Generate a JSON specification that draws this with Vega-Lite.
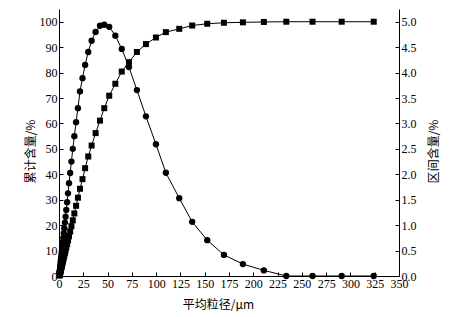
{
  "$schema": "https://vega.github.io/schema/vega-lite/v6.json",
  "autosize": {"type": "none"},
  "padding": {"left": 59, "top": 9, "right": 57, "bottom": 41},
  "width": 340,
  "height": 267,
  "background": "white",
  "config": {
    "view": {"stroke": null},
    "axis": {
      "grid": false,
      "domainColor": "#000000",
      "domainWidth": 1,
      "tickColor": "#000000",
      "tickWidth": 1,
      "tickSize": -4,
      "labelColor": "#000000",
      "labelFont": "Liberation Serif",
      "labelFontSize": 12,
      "labelFontWeight": "normal",
      "titleColor": "#000000",
      "titleFont": "Noto Sans CJK SC",
      "titleFontSize": 12,
      "titleFontWeight": "normal"
    }
  },
  "data": {
    "values": [
      {"size": 0.43, "cum": 0.2, "int": 0.02},
      {"size": 0.48, "cum": 0.3, "int": 0.03},
      {"size": 0.53, "cum": 0.4, "int": 0.04},
      {"size": 0.59, "cum": 0.5, "int": 0.05},
      {"size": 0.65, "cum": 0.6, "int": 0.06},
      {"size": 0.73, "cum": 0.7, "int": 0.075},
      {"size": 0.81, "cum": 0.8, "int": 0.09},
      {"size": 0.9, "cum": 0.95, "int": 0.105},
      {"size": 1.0, "cum": 1.1, "int": 0.125},
      {"size": 1.11, "cum": 1.3, "int": 0.145},
      {"size": 1.23, "cum": 1.5, "int": 0.17},
      {"size": 1.37, "cum": 1.7, "int": 0.195},
      {"size": 1.53, "cum": 1.9, "int": 0.225},
      {"size": 1.7, "cum": 2.2, "int": 0.255},
      {"size": 1.89, "cum": 2.5, "int": 0.29},
      {"size": 2.1, "cum": 2.8, "int": 0.33},
      {"size": 2.33, "cum": 3.2, "int": 0.375},
      {"size": 2.6, "cum": 3.6, "int": 0.425},
      {"size": 2.88, "cum": 4.0, "int": 0.475},
      {"size": 3.2, "cum": 4.5, "int": 0.535},
      {"size": 3.57, "cum": 5.1, "int": 0.6},
      {"size": 3.97, "cum": 5.7, "int": 0.67},
      {"size": 4.4, "cum": 6.4, "int": 0.75},
      {"size": 4.9, "cum": 7.2, "int": 0.84},
      {"size": 5.46, "cum": 8.0, "int": 0.94},
      {"size": 6.07, "cum": 9.0, "int": 1.05},
      {"size": 6.75, "cum": 10.0, "int": 1.165},
      {"size": 7.5, "cum": 11.2, "int": 1.3},
      {"size": 8.35, "cum": 12.5, "int": 1.45},
      {"size": 9.3, "cum": 14.0, "int": 1.625},
      {"size": 10.3, "cum": 15.6, "int": 1.825},
      {"size": 11.5, "cum": 17.5, "int": 2.025},
      {"size": 12.8, "cum": 19.6, "int": 2.25},
      {"size": 14.2, "cum": 21.9, "int": 2.5},
      {"size": 15.8, "cum": 24.6, "int": 2.75},
      {"size": 17.6, "cum": 27.6, "int": 3.025},
      {"size": 19.5, "cum": 30.8, "int": 3.3},
      {"size": 21.6, "cum": 34.3, "int": 3.63},
      {"size": 24.2, "cum": 38.1, "int": 3.89},
      {"size": 26.9, "cum": 42.4, "int": 4.15},
      {"size": 30.1, "cum": 47.0, "int": 4.405},
      {"size": 33.6, "cum": 51.3, "int": 4.625},
      {"size": 37.7, "cum": 56.2, "int": 4.8},
      {"size": 42.2, "cum": 61.1, "int": 4.92},
      {"size": 46.6, "cum": 66.0, "int": 4.94},
      {"size": 51.7, "cum": 70.9, "int": 4.9},
      {"size": 58.0, "cum": 75.6, "int": 4.725},
      {"size": 64.6, "cum": 80.4, "int": 4.465},
      {"size": 72.0, "cum": 84.1, "int": 4.11},
      {"size": 80.2, "cum": 88.1, "int": 3.655},
      {"size": 89.5, "cum": 91.2, "int": 3.14},
      {"size": 99.8, "cum": 93.8, "int": 2.59},
      {"size": 110.0, "cum": 95.9, "int": 2.03},
      {"size": 123.8, "cum": 97.2, "int": 1.53},
      {"size": 137.1, "cum": 98.5, "int": 1.065},
      {"size": 152.6, "cum": 99.2, "int": 0.705},
      {"size": 169.8, "cum": 99.6, "int": 0.415},
      {"size": 189.3, "cum": 99.75, "int": 0.235},
      {"size": 210.9, "cum": 99.9, "int": 0.11},
      {"size": 234.0, "cum": 100.0, "int": 0.0},
      {"size": 261.0, "cum": 100.0, "int": 0.0},
      {"size": 291.0, "cum": 100.0, "int": 0.0},
      {"size": 324.0, "cum": 100.0, "int": 0.0}
    ]
  },
  "encoding": {
    "x": {
      "field": "size",
      "type": "quantitative",
      "scale": {"domain": [0, 350], "nice": false, "zero": true},
      "axis": {
        "values": [0, 25, 50, 75, 100, 125, 150, 175, 200, 225, 250, 275, 300, 325, 350],
        "title": "平均粒径/μm",
        "labelPadding": 6,
        "titleX": 159,
        "titleY": 23,
        "labelFlush": false
      }
    }
  },
  "layer": [
    {
      "encoding": {
        "y": {
          "field": "cum",
          "type": "quantitative",
          "scale": {"domain": [0, 105], "nice": false},
          "axis": {
            "orient": "left",
            "values": [0, 10, 20, 30, 40, 50, 60, 70, 80, 90, 100],
            "title": "累计含量/%",
            "titleAngle": -90,
            "titleAlign": "center",
            "titleBaseline": "middle",
            "titleX": -29,
            "titleY": 142,
            "labelPadding": 6,
            "labelFlush": false,
            "labelOverlap": false
          }
        }
      },
      "layer": [
        {"mark": {"type": "line", "color": "#000000", "strokeWidth": 1}},
        {"mark": {"type": "point", "shape": "square", "filled": true, "color": "#000000", "opacity": 1, "size": 36}}
      ]
    },
    {
      "encoding": {
        "y": {
          "field": "int",
          "type": "quantitative",
          "scale": {"domain": [0, 5.25], "nice": false},
          "axis": {
            "orient": "right",
            "values": [0, 0.5, 1, 1.5, 2, 2.5, 3, 3.5, 4, 4.5, 5],
            "format": ".1f",
            "title": "区间含量/%",
            "titleAngle": -90,
            "titleAlign": "center",
            "titleBaseline": "middle",
            "titleX": 34,
            "titleY": 142,
            "labelPadding": 6,
            "labelFlush": false,
            "labelOverlap": false
          }
        }
      },
      "layer": [
        {"mark": {"type": "line", "color": "#000000", "strokeWidth": 1}},
        {"mark": {"type": "circle", "color": "#000000", "opacity": 1, "size": 40}}
      ]
    }
  ],
  "resolve": {"scale": {"y": "independent"}}
}
